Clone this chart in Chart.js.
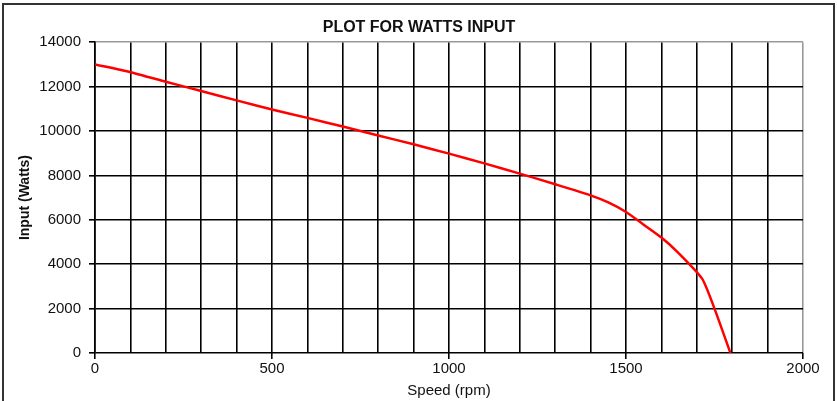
<!DOCTYPE html>
<html>
<head>
<meta charset="utf-8">
<script src="https://cdn.jsdelivr.net/npm/chart.js@4"></script>
<style>
  html, body { margin: 0; padding: 0; background: #fff; }
  #wrap { position: relative; width: 837px; height: 401px; overflow: hidden; }
  #frame { position: absolute; left: 2px; top: 3px; width: 829px; height: 420px; border: 2px solid #333; }
  #c { position: absolute; left: 0; top: 0; }
</style>
</head>
<body>
<div id="wrap">
  <div id="frame"></div>
  <canvas id="c" width="837" height="401"></canvas>
</div>
<script>
// Speed (rpm) vs watts input
const speed = [0, 100, 200, 300, 400, 500, 600, 700, 800, 900, 1000, 1100, 1200, 1300, 1400, 1450, 1500, 1550, 1600, 1650, 1715, 1750, 1795];
const watts = [13000, 12650, 12220, 11800, 11380, 10970, 10590, 10200, 9800, 9400, 8980, 8540, 8080, 7600, 7100, 6780, 6350, 5780, 5200, 4480, 3350, 2000, 0];

const xLabels = [0, 500, 1000, 1500, 2000];
const yLabels = [0, 2000, 4000, 6000, 8000, 10000, 12000, 14000];

const points = speed.map((s, i) => ({ x: s, y: watts[i] }));
const font = 'Arial, "Liberation Sans", sans-serif';

new Chart(document.getElementById('c').getContext('2d'), {
    type: 'line',
    data: {
        datasets: [{
            data: points,
            borderColor: '#ff0000',
            borderWidth: 2.5,
            pointRadius: 0,
            tension: 0.2,
            fill: false
        }]
    },
    options: {
        responsive: false,
        animation: false,
        layout: { padding: { left: 35, right: 34, top: 0, bottom: 0 } },
        plugins: {
            legend: { display: false },
            tooltip: { enabled: false },
            title: {
                display: true,
                text: 'PLOT FOR WATTS INPUT',
                color: '#111',
                font: { family: font, size: 16, weight: 'bold' },
                padding: { top: 18, bottom: 5 }
            }
        },
        scales: {
            x: {
                type: 'linear',
                min: 0,
                max: 2000,
                afterFit: function(scale) { scale.height = 48; },
                afterBuildTicks: function(scale) {
                    const t = [];
                    for (let v = 0; v <= 2000; v += 100) t.push({ value: v });
                    scale.ticks = t;
                },
                ticks: {
                    autoSkip: false,
                    maxRotation: 0,
                    padding: 1,
                    color: '#111',
                    font: { family: font, size: 15 },
                    callback: function(value) {
                        return xLabels.includes(value) ? String(value) : '';
                    }
                },
                grid: {
                    color: function(ctx) { return ctx.tick && ctx.tick.value === 2000 ? '#999' : '#000'; },
                    lineWidth: 1.6,
                    tickLength: 6,
                    tickColor: function(ctx) {
                        return ctx.tick && xLabels.includes(ctx.tick.value) ? '#000' : 'rgba(0,0,0,0)';
                    }
                },
                border: { display: false },
                title: {
                    display: true,
                    text: 'Speed (rpm)',
                    color: '#111',
                    font: { family: font, size: 15 },
                    padding: { top: 0, bottom: 1 }
                }
            },
            y: {
                min: 0,
                max: 14000,
                afterFit: function(scale) { scale.width = 60; },
                afterBuildTicks: function(scale) {
                    scale.ticks = yLabels.map(v => ({ value: v }));
                },
                ticks: {
                    padding: 8,
                    color: '#111',
                    font: { family: font, size: 15 },
                    callback: function(value) { return String(value); }
                },
                grid: {
                    color: function(ctx) { return ctx.tick && ctx.tick.value === 14000 ? '#999' : '#000'; },
                    lineWidth: 1.6,
                    tickLength: 6,
                    tickColor: '#000'
                },
                border: { display: true, color: '#000', width: 1.6 },
                title: {
                    display: true,
                    text: 'Input (Watts)',
                    color: '#111',
                    font: { family: font, size: 14, weight: 'bold' },
                    padding: { top: -18, bottom: 0 }
                }
            }
        }
    }
});
</script>
</body>
</html>
